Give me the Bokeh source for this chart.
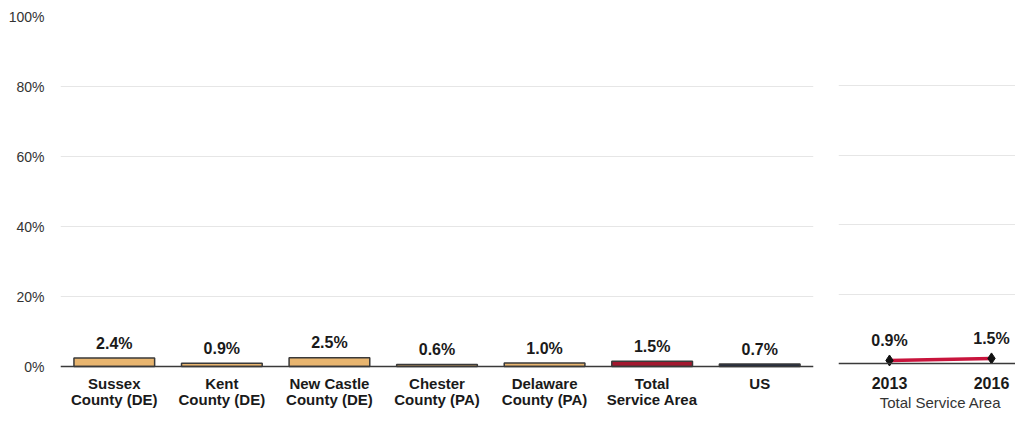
from bokeh.plotting import figure
from bokeh.layouts import row
from bokeh.models import (ColumnDataSource, FactorRange, Range1d, FixedTicker,
                          PrintfTickFormatter, Span)
from bokeh.core.properties import value
from bokeh.embed import file_html
from bokeh.resources import INLINE

# ---- data ----
categories = ["Sussex\nCounty (DE)", "Kent\nCounty (DE)", "New Castle\nCounty (DE)",
              "Chester\nCounty (PA)", "Delaware\nCounty (PA)", "Total\nService Area", "US"]
values = [2.4, 0.9, 2.5, 0.6, 1.0, 1.5, 0.7]
years = [2013, 2016]
trend = [0.9, 1.5]
y_ticks = [0, 20, 40, 60, 80, 100]
right_title = "Total Service Area"

# ---- styles / layout constants ----
TAN = "#E8B56F"
CRIMSON = "#A3182F"
NAVY = "#1D2A44"
bar_colors = [TAN, TAN, TAN, TAN, TAN, CRIMSON, NAVY]
FONT_NAME = "Liberation Sans"
FONT = value(FONT_NAME)
GRID = "#E6E6E6"
AXIS = "#3A3A3A"
TXT = "#1a1a1a"

H = 411
L_TOP, L_PLOT = 16, 350      # left panel: 100% line and height of 0..100
R_TOP, R_PLOT = 15, 348      # right panel
L_LOW = -100 * (H - L_TOP - L_PLOT) / L_PLOT
R_LOW = -100 * (H - R_TOP - R_PLOT) / R_PLOT

src = ColumnDataSource(dict(cat=categories, val=values, color=bar_colors,
                            lab=[f"{v:.1f}%" for v in values],
                            zero=[0] * len(categories)))

left = figure(x_range=FactorRange(*categories), y_range=Range1d(L_LOW, 100),
              width=822, height=H, output_backend="svg", toolbar_location=None,
              min_border_left=60, min_border_right=9, min_border_top=L_TOP, min_border_bottom=0)
left.vbar(x="cat", top="val", bottom=0, width=0.75, source=src,
          fill_color="color", line_color=AXIS, line_width=1.5)
left.add_layout(Span(location=0, dimension="width", line_color=AXIS, line_width=1.5))
left.text(x="cat", y="val", text="lab", source=src, text_align="center",
          text_baseline="alphabetic", y_offset=-15, text_font=FONT,
          text_font_size="16px", text_font_style="bold", text_color=TXT)
left.text(x="cat", y="zero", text="cat", source=src, text_align="center",
          text_baseline="top", y_offset=8, text_font=FONT, text_line_height=0.95,
          text_font_size="15px", text_font_style="bold", text_color=TXT)

left.outline_line_color = None
left.xgrid.grid_line_color = None
left.ygrid.grid_line_color = GRID
left.ygrid.grid_line_width = 1
left.xaxis.visible = False
left.yaxis.ticker = FixedTicker(ticks=y_ticks)
left.yaxis.formatter = PrintfTickFormatter(format="%d%%")
left.yaxis.axis_line_color = None
left.yaxis.major_tick_line_color = None
left.yaxis.minor_tick_line_color = None
left.yaxis.major_tick_out = 0
left.yaxis.major_label_standoff = 16
left.yaxis.major_label_text_font = FONT_NAME
left.yaxis.major_label_text_font_size = "14px"
left.yaxis.major_label_text_color = "#333333"

# ---- right panel ----
tsrc = ColumnDataSource(dict(yr=years, val=trend, lab=[f"{v:.1f}%" for v in trend],
                             yl=[str(y) for y in years], zero=[0] * len(years)))
mid_year = sum(years) / len(years)
right = figure(x_range=Range1d(2011.5, 2016.706), y_range=Range1d(R_LOW, 100),
               width=193, height=H, output_backend="svg", toolbar_location=None,
               min_border_left=16, min_border_right=0, min_border_top=R_TOP, min_border_bottom=0)
right.add_layout(Span(location=0, dimension="width", line_color=AXIS, line_width=1.5))
right.line(x="yr", y="val", source=tsrc, line_color="#C8143C", line_width=3.5)
right.scatter(x="yr", y="val", source=tsrc, marker="diamond", size=11,
              fill_color="#111111", line_color="#111111")
right.text(x="yr", y="val", text="lab", source=tsrc, text_align="center",
           text_baseline="alphabetic", y_offset=-20, text_font=FONT,
           text_font_size="16px", text_font_style="bold", text_color=TXT)
right.text(x="yr", y="zero", text="yl", source=tsrc, text_align="center",
           text_baseline="top", y_offset=13, text_font=FONT,
           text_font_size="16px", text_font_style="bold", text_color=TXT)
right.text(x=[mid_year], y=[0], text=[right_title], text_align="center",
           text_baseline="top", y_offset=30, text_font=FONT,
           text_font_size="15px", text_color="#333333")
right.outline_line_color = None
right.xgrid.grid_line_color = None
right.ygrid.grid_line_color = GRID
right.ygrid.ticker = FixedTicker(ticks=y_ticks)
right.xaxis.visible = False
right.yaxis.visible = False

layout = row(left, right, spacing=0)
open("out.html", "w").write(file_html(layout, INLINE))
